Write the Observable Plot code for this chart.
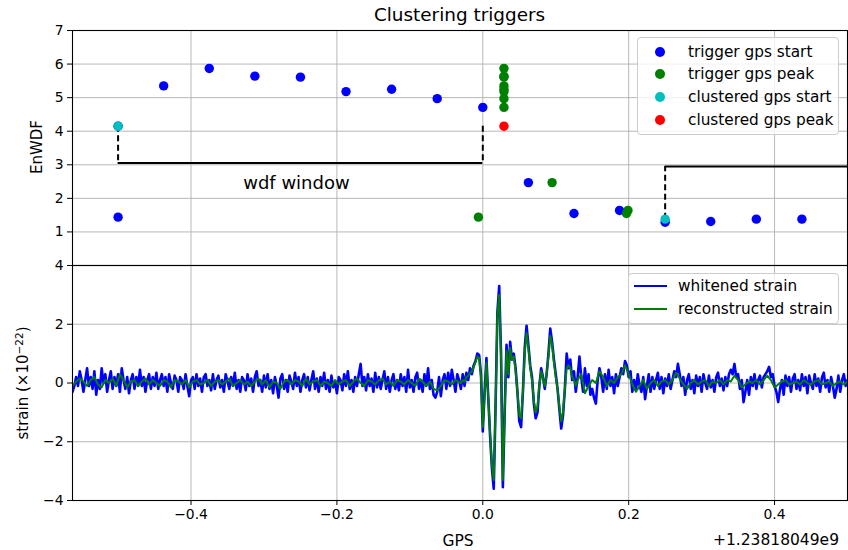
<!DOCTYPE html>
<html><head><meta charset="utf-8">
<script src="https://cdn.jsdelivr.net/npm/d3@7"></script>
<script src="https://cdn.jsdelivr.net/npm/@observablehq/plot@0.6"></script>
<style>
body{margin:0;background:#fff;font-family:"DejaVu Sans",sans-serif;color:#000;}
#wrap{position:relative;width:848px;height:550px;overflow:hidden;background:#fff;}
.abs{position:absolute;white-space:nowrap;}
.c{transform:translate(-50%,-50%);}
.rot{transform:translate(-50%,-50%) rotate(-90deg);}
.legend{position:absolute;border:1px solid #cccccc;border-radius:4px;background:rgba(255,255,255,0.8);box-sizing:border-box;}
.lt{position:absolute;font-size:15.3px;line-height:18px;transform:translateY(-50%);white-space:nowrap;}
.dotm{position:absolute;width:10px;height:10px;border-radius:50%;transform:translate(-50%,-50%);}
.linem{position:absolute;height:2px;transform:translateY(-50%);}
</style></head>
<body><div id="wrap"></div>
<script>
// ---------- axes / ticks ----------
const xDomain = [-0.5625, 0.5];
const xTicks = [-0.4, -0.2, 0, 0.2, 0.4];
const topYTicks = [1, 2, 3, 4, 5, 6, 7];
const bottomYTicks = [-4, -2, 0, 2, 4];
const gpsOffsetLabel = "+1.23818049e9";

// ---------- top panel: triggers (GPS offset, EnWDF) ----------
const triggerStartGps = [-0.5, -0.4375, -0.375, -0.3125, -0.25, -0.1875, -0.125, -0.0625, 0, -0.5, 0.0625, 0.125, 0.1875, 0.25, 0.3125, 0.375, 0.4375];
const triggerStartWdf = [4.15, 5.35, 5.87, 5.64, 5.61, 5.18, 5.25, 4.97, 4.71, 1.44, 2.47, 1.55, 1.64, 1.29, 1.31, 1.38, 1.38];
const triggerPeakGps = [0.029, 0.029, 0.029, 0.029, 0.029, 0.029, 0.029, 0.029, -0.006, 0.095, 0.197, 0.199];
const triggerPeakWdf = [5.35, 5.87, 5.64, 5.61, 5.18, 5.25, 4.97, 4.71, 1.44, 2.47, 1.55, 1.64];
const clusterStartGps = [-0.5, 0.25];
const clusterStartWdf = [4.15, 1.38];
const clusterPeakGps = [0.029];
const clusterPeakWdf = [4.15];
const windowStart = [-0.5, 0.25];
const windowEnd = [0, 0.75];
const windowLevel = [3.05, 2.95];
const windowLabel = "wdf window";
const topLegendLabels = ["trigger gps start", "trigger gps peak", "clustered gps start", "clustered gps peak"];
const topLegendColors = ["#0000ff", "#008000", "#00bfbf", "#ff0000"];

// ---------- bottom panel: strain (×1e-22) ----------
// whitened strain, sampled every 0.0025 s
const whitenedStartA = -0.5625;
const whitenedA = [
-.3,-.1,.2,-.1,.4,.1,-.3,.1,.5,-.1,
.2,-.2,.4,-.4,.1,-.2,.5,.0,.3,-.3,
.1,.4,-.2,.2,-.1,.3,-.3,.5,.1,-.2,
.2,-.35,.1,.3,-.2,.2,-.1,.45,-.1,.2,
-.3,.1,.3,-.2,.2,-.1,.35,-.2,.1,.3,
-.1,.2,-.3,.3,.0,-.2,.25,.1,-.3,.2,
.1,-.2,.3,-.1,-.45,.1,.2,-.2,.3,-.1,
.15,-.3,.2,.3,-.1,.1,-.25,.3,-.2,.1,
.25,-.15,.1,-.3,.3,.05,-.2,.2,-.1,.35,
-.2,.1,-.3,.2,.1,-.25,.3,-.1,.15,-.3,
.2,.4,-.1,.1,-.3,.25,-.15,.3,-.2,.1,
-.35,.2,-.1,-.5,.15,.3,-.2,.1,-.3,.25,
.05,-.2,.35,-.1,.2,-.3,.1,.3,-.15,.2,
-.25,.1,.4,-.2,.15,-.3,.2,-.1,.35,-.2,
.1,-.3,.25,-.15,.05,-.35,.2,.1,-.25,.3,
-.1,.4,-.2,.1,-.3,.2,-.1,.3,.65,-.1,
.2,-.25,.3,-.1,.15,-.3,.35,-.15,.2,-.2,
.1,.4,-.2,.2,-.3,.1,.3,-.2,.1,-.25,
.3,-.1,.2,-.3,.45,-.15,.1,-.3,.2,.35,
-.2,.1,-.3,.3,-.1,.5,-.2,.1,-.4,-.5,
-.3,.2,-.45,.1,.3,-.2,.35,-.1,.45,.1,
-.3,.3,.1];
const whitenedStartB = -0.03;
const whitenedB = [
-.2,.3,-.1,.35,.1,.5,.3,.6,.75,1.0,
.95,.3,-1.65,-.3,.85,-.5,-1.8,-2.9,-3.6,-.8,
2.4,3.3,1.0,-3.55,-1.0,1.3,.2,1.4,.8,1.0,
.5,-.3,-1.3,-1.5,-.3,1.2,1.95,1.3,.6,.2,
-.7,-1.2,-1.0,-.1,.5,.2,-.2,.3,1.0,1.85,
1.4,.8,.3,-.2,-.9,-1.55,-1.1,-.2,1.0,.5,
.8,.1,.4,-.3,.2];
const whitenedStartC = 0.1325;
const whitenedC = [
.9,.2,-.3,.5,-.1,.3,-.4,-.2,-.5,-.7,
.1,.5,.2,-.3,.3,-.2,.45,-.1,.2,-.35,
.3,-.1,.2,.5,.3,.75,.6,.2,.4,-.3,
.1,-.25,.3,-.1,-.3,.2,-.55,-.1,.3,-.3,
.2,-.2,.1,.35,-.2,.2,-.35,.15,-.1,.3,
-.2,.1,.4,.2,.65,.3,-.1,.2,-.4,.1,
.3,-.2,.1,-.35,.25,-.1,.2,-.3,.3,.0,
-.2,.25,-.15,.1,-.3,.2,.35,-.1,.15,-.25,
.2,-.1,.3,.45,.3,.65,.2,.3,-.2,.1,
-.65,-.3,.1,-.4,.2,-.1,.3,-.2,.1,.25,
-.15,.2,.3,.4,.55,.2,.3,-.1,-.3,-.65,
-.2,.1,-.4,.25,-.1,.2,-.3,.15,.3,-.2,
.1,-.25,.3,-.1,.2,-.35,.25,.0,-.2,.3,
-.1,.15,-.3,.2,.35,-.15,.1,-.3,.2,-.1,
-.5,-.2,.25,-.3,.1,.3,-.1,.1];
const whitenedStep = 0.0025;

// reconstructed strain
const reconStartA = -0.5625, reconStepA = 0.005;
const reconA = [
-.1,.05,.15,.05,-.1,.1,.2,-.05,-.15,.1,
.0,.15,-.1,.3,.1,-.15,.05,.1,-.1,.05,
.15,-.05,.1,.0,-.1,.1,.05,-.15,.1,.05,
-.05,.1,-.15,.05,.1,-.05,.0,.1,-.1,.05,
.1,-.05,.05,.15,-.1,.0,.1,-.05,.05,-.1,
.05,.15,-.05,.1,-.15,.05,.0,-.2,.05,.1,
-.05,.1,.05,-.1,.15,-.05,.05,.1,-.1,.05,
.0,-.1,.1,-.05,.05,.1,-.1,.05,.15,.0,
-.1,.1,.05,-.05,.1,.15,-.05,.05,-.1,.1,
.05,-.05,.1,.0,-.1,.15,.05,-.1,.05,-.2,
-.25,-.1,.1,.05,-.05,.1];
const reconStartB = -0.03, reconStepB = 0.0025;
const reconB = [
.0,.1,.05,.2,.25,.35,.4,.55,.7,.9,
.85,.2,-1.5,-.4,.7,-.5,-1.7,-2.8,-3.3,-.8,
2.3,3.0,.9,-3.3,-1.0,1.1,.3,1.2,.8,.9,
.4,-.3,-1.1,-1.2,-.3,1.0,1.7,1.2,.5,.1,
-.6,-1.0,-.8,-.1,.4,.15,-.1,.3,.9,1.6,
1.3,.7,.2,-.2,-.8,-1.3,-1.0,-.2,.5,.6,
.5,.2,.1,-.1,.1];
const reconStartC = 0.135, reconStepC = 0.005;
const reconC = [
.3,-.35,-.1,.1,.0,.4,.2,-.1,.1,.0,
.2,.3,.6,.3,-.05,-.3,-.1,.1,-.2,.0,
.1,-.1,.05,.1,-.05,.1,.35,.15,-.05,-.2,
.0,.1,-.05,.05,.1,-.1,.05,.0,.1,-.05,
.1,.05,.25,.1,-.15,-.05,.05,.0,.1,-.05,
.1,.25,.1,-.15,-.05,.05,.1,-.05,.0,.05,
-.05,.1,.0,-.05,.05,.1,-.05,.0,.05,-.1,
.0,.05,-.05,.05];
const bottomLegendLabels = ["whitened strain", "reconstructed strain"];
const bottomLegendColors = ["#0000ff", "#008000"];

// ---------- build tables ----------
const pts = (xs, ys) => xs.map((x, i) => ({x, y: ys[i]}));
const sampled = (start, step, vals) => vals.map((v, i) => ({t: start + i * step, v}));
const triggerStart = pts(triggerStartGps, triggerStartWdf);
const triggerPeak = pts(triggerPeakGps, triggerPeakWdf);
const clusterStart = pts(clusterStartGps, clusterStartWdf);
const clusterPeak = pts(clusterPeakGps, clusterPeakWdf);
const windows = windowStart.map((s, i) => ({start: s, end: windowEnd[i], level: windowLevel[i], value: clusterStartWdf[i]}));
const whitened = [...sampled(whitenedStartA, whitenedStep, whitenedA), ...sampled(whitenedStartB, whitenedStep, whitenedB), ...sampled(whitenedStartC, whitenedStep, whitenedC)];
const recon = [...sampled(reconStartA, reconStepA, reconA), ...sampled(reconStartB, reconStepB, reconB), ...sampled(reconStartC, reconStepC, reconC)];

const FONT = "DejaVu Sans";
const gridStyle = {stroke: "#b0b0b0", strokeOpacity: 1, strokeWidth: 0.9};
const baseStyle = {background: "transparent", fontFamily: FONT, fontSize: "13.9px", color: "black", overflow: "visible"};

const topPlot = Plot.plot({
  width: 848, height: 266, marginLeft: 72, marginRight: 1, marginTop: 30, marginBottom: 1,
  style: baseStyle,
  x: {domain: xDomain, axis: null},
  y: {domain: [0, 7]},
  marks: [
    Plot.gridX(xTicks, gridStyle),
    Plot.gridY(topYTicks, gridStyle),
    Plot.axisY(topYTicks, {tickSize: 5, tickPadding: 4, label: null, tickFormat: d => String(d), fontSize: 13.9, stroke: "black"}),
    Plot.ruleY(windows, {y: "level", x1: "start", x2: "end", stroke: "black", strokeWidth: 2, clip: true}),
    Plot.ruleX(windows, {x: "start", y1: "value", y2: "level", stroke: "black", strokeWidth: 2, strokeDasharray: "6,3.5", clip: true}),
    Plot.ruleX(windows.slice(0, 1), {x: "end", y1: "value", y2: "level", stroke: "black", strokeWidth: 2, strokeDasharray: "6,3.5", clip: true}),
    Plot.text(windows.slice(0, 1), {x: d => (d.start + d.end) / 2, y: "level", dx: -4, dy: 20, text: () => windowLabel, fontSize: 18, fill: "black", fontFamily: FONT}),
    Plot.dot(triggerStart, {x: "x", y: "y", r: 4.7, fill: topLegendColors[0], stroke: "none"}),
    Plot.dot(triggerPeak, {x: "x", y: "y", r: 4.7, fill: topLegendColors[1], stroke: "none"}),
    Plot.dot(clusterStart, {x: "x", y: "y", r: 4.7, fill: topLegendColors[2], stroke: "none"}),
    Plot.dot(clusterPeak, {x: "x", y: "y", r: 4.7, fill: topLegendColors[3], stroke: "none"}),
    Plot.frame({stroke: "black", strokeWidth: 1.1})
  ]
});

const bottomPlot = Plot.plot({
  width: 848, height: 290, marginLeft: 72, marginRight: 1, marginTop: 5, marginBottom: 50,
  style: baseStyle,
  x: {domain: xDomain},
  y: {domain: [-4, 4]},
  marks: [
    Plot.gridX(xTicks, gridStyle),
    Plot.gridY(bottomYTicks, gridStyle),
    Plot.axisX(xTicks, {tickSize: 5, tickPadding: 4, label: null, tickFormat: d3.format(".1f"), fontSize: 13.9, stroke: "black"}),
    Plot.axisY(bottomYTicks, {tickSize: 5, tickPadding: 4, label: null, tickFormat: d3.format("d"), fontSize: 13.9, stroke: "black"}),
    Plot.line(whitened, {x: "t", y: "v", stroke: bottomLegendColors[0], strokeWidth: 2.6, clip: true}),
    Plot.line(recon, {x: "t", y: "v", stroke: bottomLegendColors[1], strokeWidth: 2, clip: true}),
    Plot.frame({stroke: "black", strokeWidth: 1.1})
  ]
});

const wrap = document.getElementById("wrap");
function place(el, left, top) { el.style.position = "absolute"; el.style.left = left + "px"; el.style.top = top + "px"; wrap.appendChild(el); }
place(topPlot, 0, 0);
place(bottomPlot, 0, 260);

function addText(html, cls, left, top, size) {
  const d = document.createElement("div");
  d.className = "abs " + cls;
  d.style.left = left + "px"; d.style.top = top + "px"; d.style.fontSize = size + "px";
  d.innerHTML = html; wrap.appendChild(d); return d;
}
addText("Clustering triggers", "c", 459.5, 14, 18.4);
addText("EnWDF", "rot", 37, 147, 15);
addText("strain (×10<sup style='font-size:10.5px;vertical-align:5px'>−22</sup>)", "rot", 22, 383, 15);
addText("GPS", "c", 458, 541, 15.5);
const off = addText(gpsOffsetLabel, "", 0, 531, 15.5);
off.style.left = "auto"; off.style.right = "9px";

// legends
const lg1 = document.createElement("div");
lg1.className = "legend";
Object.assign(lg1.style, {left: "637px", top: "37px", width: "202px", height: "98px"});
topLegendLabels.forEach((lab, i) => {
  const y = 13.5 + i * 22.8;
  const m = document.createElement("div"); m.className = "dotm";
  Object.assign(m.style, {left: "22px", top: y + "px", background: topLegendColors[i]});
  const t = document.createElement("div"); t.className = "lt";
  Object.assign(t.style, {left: "50px", top: y + "px"}); t.textContent = lab;
  lg1.appendChild(m); lg1.appendChild(t);
});
wrap.appendChild(lg1);

const lg2 = document.createElement("div");
lg2.className = "legend";
Object.assign(lg2.style, {left: "628px", top: "273px", width: "211px", height: "51px"});
bottomLegendLabels.forEach((lab, i) => {
  const y = 12 + i * 23.3;
  const m = document.createElement("div"); m.className = "linem";
  Object.assign(m.style, {left: "4.5px", width: "33px", top: y + "px", background: bottomLegendColors[i]});
  const t = document.createElement("div"); t.className = "lt";
  Object.assign(t.style, {left: "49px", top: y + "px"}); t.textContent = lab;
  lg2.appendChild(m); lg2.appendChild(t);
});
wrap.appendChild(lg2);
</script>
</body></html>
